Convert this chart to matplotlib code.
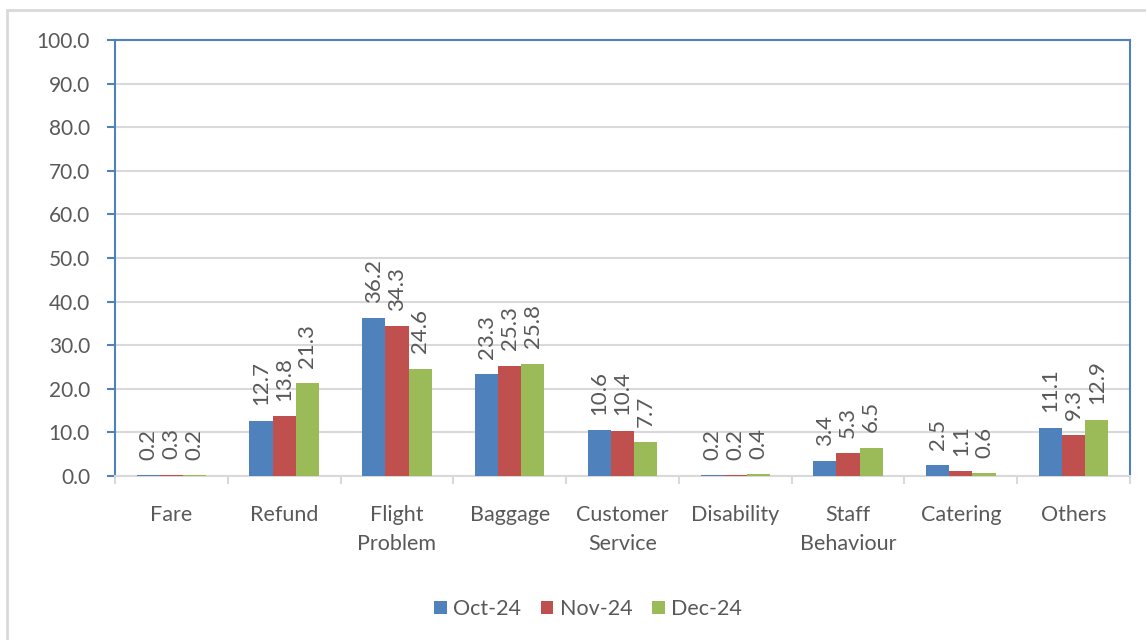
import numpy as np
import matplotlib.pyplot as plt
from matplotlib.patches import Rectangle

categories = ['Fare', 'Refund', 'Flight\nProblem', 'Baggage', 'Customer\nService',
              'Disability', 'Staff\nBehaviour', 'Catering', 'Others']
oct_24 = [0.2, 12.7, 36.2, 23.3, 10.6, 0.2, 3.4, 2.5, 11.1]
nov_24 = [0.3, 13.8, 34.3, 25.3, 10.4, 0.2, 5.3, 1.1, 9.3]
dec_24 = [0.2, 21.3, 24.6, 25.8, 7.7, 0.4, 6.5, 0.6, 12.9]
series_names = ['Oct-24', 'Nov-24', 'Dec-24']
colors = ['#4F81BD', '#C0504D', '#9BBB59']

plt.rcParams['font.family'] = ['Lato', 'DejaVu Sans']
text_color = '#595959'
grid_color = '#D9D9D9'
axis_blue = '#4F81BD'

fig = plt.figure(figsize=(11.46, 6.4), dpi=100)
ax = fig.add_axes([115 / 1146, 1 - 476 / 640, (1130 - 115) / 1146, (476 - 40) / 640])

# light outer border of the chart area
fig.patches.append(Rectangle((7 / 1146, -0.05), 1.1, 1 - 10 / 640 + 0.05,
                             transform=fig.transFigure, fill=False,
                             edgecolor=grid_color, linewidth=2))

x = np.arange(len(categories))
width = 0.205
for i, (vals, name, col) in enumerate(zip([oct_24, nov_24, dec_24], series_names, colors)):
    bars = ax.bar(x + (i - 1) * width, vals, width, color=col, label=name, zorder=3)
    for b, v in zip(bars, vals):
        ax.annotate(f'{v:.1f}', (b.get_x() + b.get_width() / 2, b.get_height()),
                    xytext=(0, 11), textcoords='offset points', rotation=90,
                    ha='center', va='bottom', fontsize=16, color=text_color)

ax.set_ylim(0, 100)
ax.set_yticks(np.arange(0, 101, 10))
ax.set_yticklabels([f'{v:.1f}' for v in np.arange(0, 101, 10)])
ax.set_xlim(-0.5, len(categories) - 0.5)
ax.set_xticks(x)
ax.set_xticklabels(categories, linespacing=1.55)
ax.set_xticks(np.arange(-0.5, len(categories)), minor=True)

ax.tick_params(axis='x', which='major', length=0, pad=21, labelsize=15.5, labelcolor=text_color)
ax.tick_params(axis='x', which='minor', length=6, color=grid_color, width=1.5)
ax.tick_params(axis='y', length=6, color=axis_blue, width=1.5, pad=12,
               labelsize=15, labelcolor=text_color)

ax.grid(axis='y', color=grid_color, linewidth=1.5, zorder=0)
for side in ['left', 'top', 'right']:
    ax.spines[side].set_color(axis_blue)
    ax.spines[side].set_linewidth(1.5)
ax.spines['bottom'].set_color(grid_color)
ax.spines['bottom'].set_linewidth(1.5)

ax.legend(loc='center', bbox_to_anchor=(0.466, -0.305), ncol=3, frameon=False,
          fontsize=15.5, labelcolor=text_color, handlelength=0.6, handleheight=0.6,
          handletextpad=0.3, columnspacing=0.9)

fig.savefig('out.png', dpi=100)
